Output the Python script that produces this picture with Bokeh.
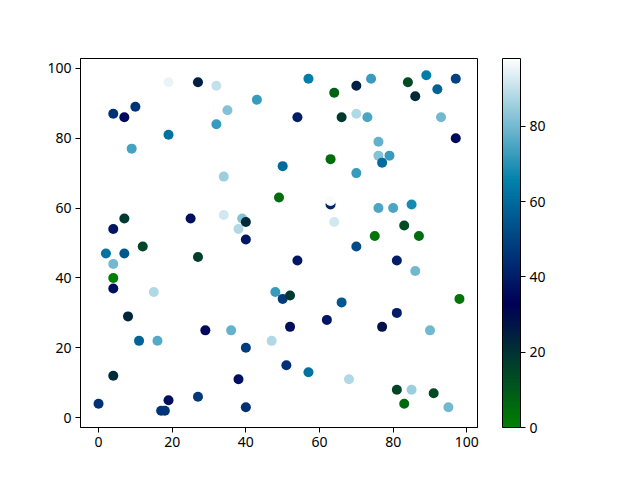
from bokeh.plotting import figure
from bokeh.models import LinearColorMapper, ColorBar, Range1d, FixedTicker, ColumnDataSource
from bokeh.embed import file_html
from bokeh.resources import INLINE

# ---- data ----
xs = [0, 4, 7, 10, 19, 27, 32, 43, 35, 32, 19, 9, 50, 34, 49, 7, 4, 25, 34, 39,
      40, 38, 40, 12, 57, 64, 70, 74, 84, 89, 92, 97, 86, 54, 66, 70, 73, 93, 97, 76,
      76, 79, 77, 63, 70, 63, 63, 76, 80, 85, 64, 83, 75, 87, 70, 2, 7, 4, 4, 4,
      27, 15, 14, 8, 11, 16, 29, 36, 40, 47, 48, 50, 52, 52, 51, 4, 38, 19, 27, 17,
      18, 40, 54, 81, 66, 62, 81, 77, 86, 98, 90, 57, 68, 81, 85, 91, 83, 95]
ys = [4, 87, 86, 89, 96, 96, 95, 91, 88, 84, 81, 77, 72, 69, 63, 57, 54, 57, 58, 57,
      56, 54, 51, 49, 97, 93, 95, 97, 96, 98, 94, 97, 92, 86, 86, 87, 86, 86, 80, 79,
      75, 75, 73, 74, 70, 61, 62, 60, 60, 61, 56, 55, 52, 52, 49, 47, 47, 44, 40, 37,
      46, 36, 30, 29, 22, 22, 25, 25, 20, 22, 36, 34, 35, 26, 15, 12, 11, 5, 6, 2,
      2, 3, 45, 45, 33, 28, 30, 26, 42, 34, 25, 13, 11, 8, 8, 7, 4, 3]
cs = [45, 45, 35, 46, 95, 25, 90, 72, 82, 72, 62, 74, 60, 85, 5, 18, 38, 36, 92, 82,
      22, 88, 38, 15, 65, 8, 25, 72, 14, 65, 58, 50, 22, 40, 18, 88, 75, 80, 35, 78,
      82, 72, 60, 5, 72, 42, 97, 75, 75, 68, 92, 14, 3, 5, 52, 62, 55, 80, 0, 36,
      17, 88, 98, 23, 58, 76, 35, 78, 48, 88, 72, 48, 18, 36, 45, 22, 36, 36, 47, 46,
      46, 45, 38, 40, 55, 38, 40, 28, 80, 3, 80, 62, 88, 15, 85, 14, 6, 80]
cbar_ticks = [0, 20, 40, 60, 80]
axis_ticks = [0, 20, 40, 60, 80, 100]


def ocean(t):
    r = min(max(3 * t - 2, 0.0), 1.0)
    g = abs(3 * t - 1) / 2
    b = t
    return "#%02x%02x%02x" % (round(r * 255), round(g * 255), round(b * 255))


palette = [ocean(i / 255) for i in range(256)]
mapper = LinearColorMapper(palette=palette, low=min(cs), high=max(cs))


def padded(vals):
    lo, hi = min(vals), max(vals)
    m = 0.05 * (hi - lo)
    return Range1d(lo - m, hi + m)


FONT = "Noto Sans"
FS = "14px"

p = figure(output_backend="svg", toolbar_location=None,
           width=632, height=472,
           min_border_left=80, min_border_top=58, min_border_bottom=45,
           min_border_right=155,
           x_range=padded(xs), y_range=padded(ys))
p.grid.visible = False
p.outline_line_color = "black"
p.outline_line_width = 1

src = ColumnDataSource(dict(x=xs, y=ys, c=cs))
p.scatter("x", "y", source=src, size=10,
          fill_color={"field": "c", "transform": mapper}, line_color=None)

for ax in (p.xaxis[0], p.yaxis[0]):
    ax.ticker = FixedTicker(ticks=axis_ticks)
    ax.major_tick_out = 5
    ax.major_tick_in = 0
    ax.minor_tick_out = 0
    ax.minor_tick_in = 0
    ax.axis_line_color = "black"
    ax.major_tick_line_color = "black"
    ax.major_label_text_font = FONT
    ax.major_label_text_font_size = FS
    ax.major_label_text_color = "black"
    ax.major_label_standoff = 4

cb = ColorBar(color_mapper=mapper, ticker=FixedTicker(ticks=cbar_ticks),
              width=18, height=369, padding=0, margin=0,
              location=(397 + 25, 0),
              bar_line_color="black", bar_line_width=1,
              major_tick_out=5, major_tick_in=0, major_tick_line_color="black",
              minor_tick_line_color=None,
              major_label_text_font=FONT, major_label_text_font_size=FS,
              major_label_text_color="black", label_standoff=4,
              background_fill_alpha=0, border_line_color=None)
p.add_layout(cb, "center")

open("out.html", "w").write(file_html(p, INLINE))
